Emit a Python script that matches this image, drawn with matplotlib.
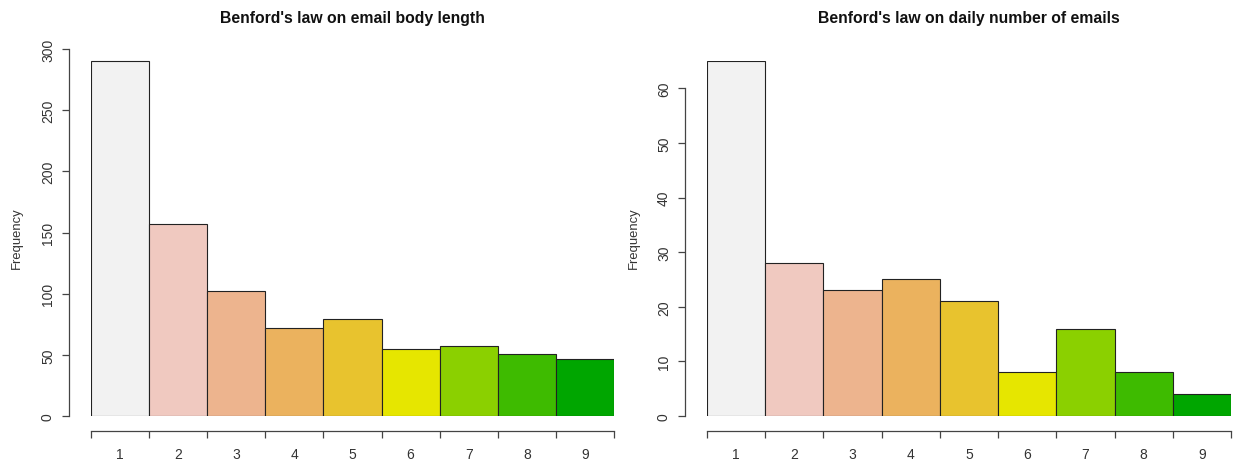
#!/usr/bin/env python3
"""Benford's law histograms (R-style barplots) for email data."""

import numpy as np
import matplotlib
matplotlib.use('Agg')
import matplotlib.pyplot as plt

plt.rcParams['font.family'] = ['Liberation Sans', 'DejaVu Sans']

# Data
digits = [1, 2, 3, 4, 5, 6, 7, 8, 9]
body_length_counts = [290, 157, 102, 72, 79, 55, 57, 51, 47]
daily_email_counts = [65, 28, 23, 25, 21, 8, 16, 8, 4]

titles = ["Benford's law on email body length",
          "Benford's law on daily number of emails"]
y_ticks_left = [0, 50, 100, 150, 200, 250, 300]
y_ticks_right = [0, 10, 20, 30, 40, 50, 60]

# R terrain.colors(9), reversed
bar_colors = ["#F2F2F2", "#F0C9C0", "#EDB48E", "#EBB25E", "#E8C32E",
              "#E6E600", "#8BD000", "#3EBB00", "#00A600"]

W, H = 1238, 464
PX = 72 / 100  # points per pixel at dpi 100
TXT = '#333333'


def draw_panel(fig, rect, counts, yticks, ylim_top, title, ylab_xy):
    ax = fig.add_axes(rect)
    edges = np.arange(len(counts) + 1) + 1
    ax.bar(edges[:-1], counts, width=1.0, align='edge', color=bar_colors,
           edgecolor='#222222', linewidth=0.8)
    ax.set_xlim(edges[0], edges[-1])
    ax.set_ylim(0, ylim_top)

    for s in ('top', 'right'):
        ax.spines[s].set_visible(False)
    ax.spines['left'].set_bounds(yticks[0], yticks[-1])
    ax.spines['left'].set_position(('outward', 22 * PX))
    ax.spines['bottom'].set_bounds(edges[0], edges[-1])
    ax.spines['bottom'].set_position(('outward', 15 * PX))
    for s in ('left', 'bottom'):
        ax.spines[s].set_color('#444444')
        ax.spines[s].set_linewidth(0.9)

    ax.set_yticks(yticks)
    ax.set_yticklabels([str(v) for v in yticks], rotation=90, va='center')
    ax.tick_params(axis='y', length=7 * PX, width=0.9, color='#444444',
                   labelcolor=TXT, labelsize=10, pad=7 * PX)

    ax.set_xticks(edges)
    ax.set_xticklabels([])
    ax.set_xticks(edges[:-1] + 0.5, minor=True)
    ax.set_xticklabels([str(d) for d in digits], minor=True)
    ax.tick_params(axis='x', which='major', length=7 * PX, width=0.9, color='#444444')
    ax.tick_params(axis='x', which='minor', length=0, labelcolor=TXT,
                   labelsize=10, pad=16 * PX)

    ax.set_ylabel('Frequency', fontsize=9.4, color=TXT)
    ax.yaxis.set_label_coords(*ylab_xy)
    fig.text(rect[0] + rect[2] / 2, 1 - 18 / H, title, ha='center', va='center',
             fontsize=11.3, fontweight='bold', color='#111111')
    return ax


fig = plt.figure(figsize=(W / 100, H / 100), dpi=100)

# left panel: y=0 at 417 px, y=300 at 50 px
draw_panel(fig, [91 / W, (H - 417) / H, 523 / W, 367 / H],
           body_length_counts, y_ticks_left, 300, titles[0],
           (-(91 - 23) / 523, (417 - 238) / 367))

# right panel: y=0 at 417 px, y=65 at 62 px
draw_panel(fig, [707 / W, (H - 417) / H, 524 / W, 355 / H],
           daily_email_counts, y_ticks_right, 65, titles[1],
           (-(707 - 640) / 524, (417 - 238) / 355))

fig.savefig('out.png', dpi=100, facecolor='white')
